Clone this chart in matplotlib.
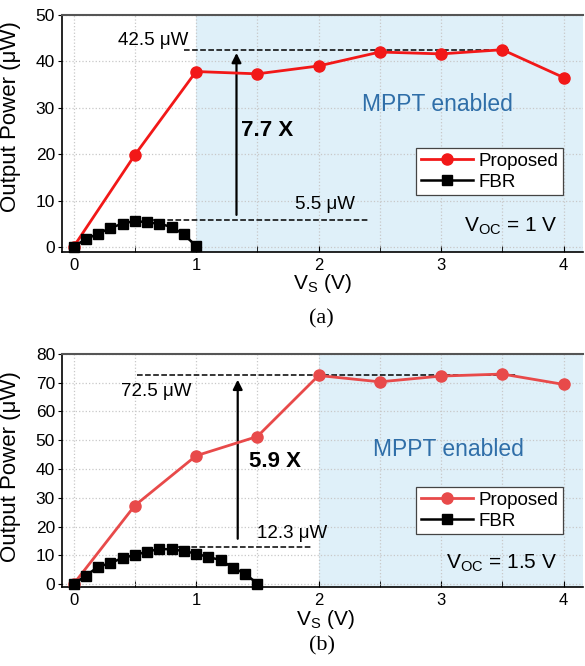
import matplotlib
matplotlib.use('Agg')
import matplotlib.pyplot as plt
from matplotlib.ticker import MultipleLocator

plt.rcParams['font.family'] = ['Liberation Sans', 'DejaVu Sans']

# (a) Voc = 1 V
vs_prop_a = [0, 0.5, 1.0, 1.5, 2.0, 2.5, 3.0, 3.5, 4.0]
p_prop_a = [0, 19.8, 37.8, 37.3, 39.0, 42.0, 41.6, 42.5, 36.5]
vs_fbr_a = [0, 0.1, 0.2, 0.3, 0.4, 0.5, 0.6, 0.7, 0.8, 0.9, 1.0]
p_fbr_a = [0, 1.7, 2.8, 4.1, 5.0, 5.6, 5.3, 5.0, 4.3, 2.7, 0.2]

# (b) Voc = 1.5 V
vs_prop_b = [0, 0.5, 1.0, 1.5, 2.0, 2.5, 3.0, 3.5, 4.0]
p_prop_b = [0, 27.3, 44.6, 51.3, 72.5, 70.3, 72.3, 73.0, 69.4]
vs_fbr_b = [0, 0.1, 0.2, 0.3, 0.4, 0.5, 0.6, 0.7, 0.8, 0.9, 1.0, 1.1, 1.2, 1.3, 1.4, 1.5]
p_fbr_b = [0, 2.9, 6.0, 7.3, 9.1, 10.1, 11.3, 12.2, 12.1, 11.5, 10.6, 9.4, 8.4, 5.7, 3.6, 0.2]

XMAX = 4.16
SHADE = '#dff0f9'
MPPT_COLOR = '#2f6ea8'


def draw_panel(ax, vs_p, p_p, vs_f, p_f, red, ymax, mppt_start):
    ax.axvspan(mppt_start, XMAX, color=SHADE, zorder=0, lw=0)
    ax.plot(vs_p, p_p, color=red, lw=2, marker='o', ms=8, label='Proposed', zorder=4)
    ax.plot(vs_f, p_f, color='black', lw=1.8, marker='s', ms=6.5, label='FBR', zorder=5,
            clip_on=False)
    ax.set_xlim(-0.094, XMAX)
    ax.set_ylim(-1.1 if ymax == 50 else -1.0, ymax)
    ax.xaxis.set_major_locator(MultipleLocator(1))
    ax.xaxis.set_minor_locator(MultipleLocator(0.5))
    ax.yaxis.set_major_locator(MultipleLocator(10))
    ax.grid(True, which='both', axis='x', color='#c8c8c8', ls=':', lw=0.9)
    ax.grid(True, which='major', axis='y', color='#c8c8c8', ls=':', lw=0.9)
    ax.set_axisbelow(True)
    ax.tick_params(axis='y', direction='out', length=3, labelsize=12.5, pad=2)
    ax.tick_params(axis='x', which='both', direction='in', length=4, labelsize=12, pad=4)
    ax.spines['right'].set_visible(False)
    ax.spines['top'].set_color('#555555')
    ax.spines['top'].set_linewidth(1.5)
    ax.spines['left'].set_linewidth(1.2)
    ax.spines['bottom'].set_linewidth(1.2)
    ax.set_ylabel('Output Power (\u03bcW)', fontsize=16)
    ax.set_xlabel('V$_\\mathregular{S}$ (V)', fontsize=15)


fig = plt.figure(figsize=(5.85, 6.66), dpi=100)

# ---- panel (a)
ax1 = fig.add_axes([0.106, 0.6216, 0.891, 0.356])
draw_panel(ax1, vs_prop_a, p_prop_a, vs_fbr_a, p_fbr_a, '#f21818', 50, 1.0)
ax1.yaxis.set_label_coords(-0.079, 0.57)
ax1.xaxis.set_label_coords(0.5, -0.085)
ax1.plot([0.9, 3.55], [42.5, 42.5], ls='--', color='black', lw=1.1, zorder=3)
ax1.plot([0.5, 2.4], [5.9, 5.9], ls='--', color='black', lw=1.1, zorder=3)
ax1.annotate('', xy=(1.33, 42.4), xytext=(1.33, 6.3),
             arrowprops=dict(arrowstyle='-|>', color='black', lw=1.6, mutation_scale=14))
ax1.text(0.36, 44.4, '42.5 \u03bcW', fontsize=13.5, ha='left', va='center')
ax1.text(2.30, 9.1, '5.5 \u03bcW', fontsize=13.5, ha='right', va='center')
ax1.text(1.37, 25, '7.7 X', fontsize=16, fontweight='bold', ha='left', va='center')
ax1.text(2.97, 30.6, 'MPPT enabled', fontsize=16.5, color=MPPT_COLOR, ha='center', va='center')
ax1.text(3.95, 4.4, 'V$_\\mathregular{OC}$ = 1 V', fontsize=15, ha='right', va='center')
leg1 = ax1.legend(loc='upper right', bbox_to_anchor=(0.962, 0.439), fontsize=13.5,
                  fancybox=False, edgecolor='#444444', framealpha=1, handlelength=2.8,
                  borderpad=0.25, labelspacing=0.2, handletextpad=0.3, borderaxespad=0)
leg1.get_frame().set_linewidth(0.9)

# ---- panel (b)
ax2 = fig.add_axes([0.106, 0.1186, 0.891, 0.35])
draw_panel(ax2, vs_prop_b, p_prop_b, vs_fbr_b, p_fbr_b, '#e84a4a', 80, 2.0)
ax2.yaxis.set_label_coords(-0.079, 0.515)
ax2.xaxis.set_label_coords(0.505, -0.09)
ax2.plot([0.52, 3.62], [72.8, 72.8], ls='--', color='black', lw=1.1, zorder=3)
ax2.plot([0.70, 1.94], [13.0, 13.0], ls='--', color='black', lw=1.1, zorder=3)
ax2.annotate('', xy=(1.34, 72.0), xytext=(1.34, 14.8),
             arrowprops=dict(arrowstyle='-|>', color='black', lw=1.6, mutation_scale=14))
ax2.text(0.39, 67, '72.5 \u03bcW', fontsize=13.5, ha='left', va='center')
ax2.text(1.50, 17.7, '12.3 \u03bcW', fontsize=13.5, ha='left', va='center')
ax2.text(1.43, 42.7, '5.9 X', fontsize=16, fontweight='bold', ha='left', va='center')
ax2.text(3.06, 46.7, 'MPPT enabled', fontsize=16.5, color=MPPT_COLOR, ha='center', va='center')
ax2.text(3.95, 7.3, 'V$_\\mathregular{OC}$ = 1.5 V', fontsize=15, ha='right', va='center')
leg2 = ax2.legend(loc='upper right', bbox_to_anchor=(0.962, 0.429), fontsize=13.5,
                  fancybox=False, edgecolor='#444444', framealpha=1, handlelength=2.8,
                  borderpad=0.25, labelspacing=0.2, handletextpad=0.3, borderaxespad=0)
leg2.get_frame().set_linewidth(0.9)

fig.text(0.55, 0.521, '(a)', fontsize=16, family='Liberation Serif', ha='center', va='center')
fig.text(0.55, 0.030, '(b)', fontsize=16, family='Liberation Serif', ha='center', va='center')

fig.savefig('out.png', dpi=100)
plt.close(fig)
